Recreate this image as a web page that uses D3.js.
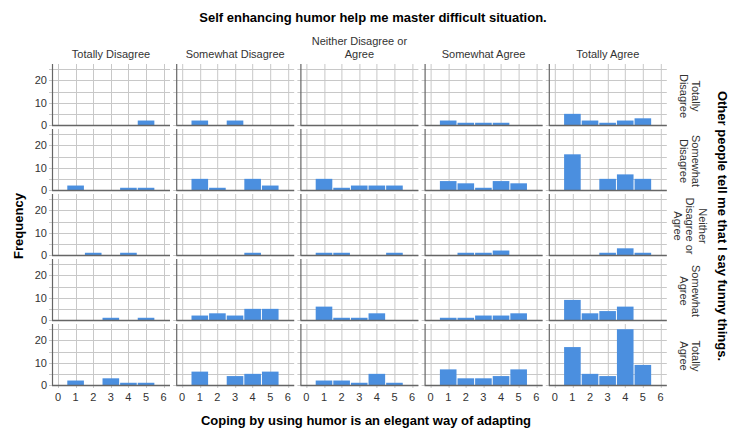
<!DOCTYPE html>
<html>
<head>
<meta charset="utf-8">
<script src="https://cdn.jsdelivr.net/npm/d3@7"></script>
<style>
  body { margin:0; background:#fff; }
  text { font-family: "Liberation Sans", Arial, sans-serif; }
</style>
</head>
<body>
<div id="chart-area"></div>
<script>
// categories
const colLabels = [["Totally Disagree"], ["Somewhat Disagree"], ["Neither Disagree or", "Agree"], ["Somewhat Agree"], ["Totally Agree"]];
const rowLabels = [["Totally", "Disagree"], ["Somewhat", "Disagree"], ["Neither", "Disagree  or", "Agree"], ["Somewhat", "Agree"], ["Totally", "Agree"]];
const xValues = [1, 2, 3, 4, 5];
const xTicks = [0, 1, 2, 3, 4, 5, 6];
const yTicks = [0, 5, 10, 15, 20, 25];
const yLabels = [0, 10, 20];

// counts per row (Other people tell me...), one array per column (Self enhancing...)
const rowTotallyDisagree = [[0,0,0,0,2], [2,0,2,0,0], [0,0,0,0,0], [2,1,1,1,0], [5,2,1,2,3]];
const rowSomewhatDisagree = [[2,0,0,1,1], [5,1,0,5,2], [5,1,2,2,2], [4,3,1,4,3], [16,0,5,7,5]];
const rowNeither = [[0,1,0,1,0], [0,0,0,1,0], [1,1,0,0,1], [0,1,1,2,0], [0,0,1,3,1]];
const rowSomewhatAgree = [[0,0,1,0,1], [2,3,2,5,5], [6,1,1,3,0], [1,1,2,2,3], [9,3,4,6,0]];
const rowTotallyAgree = [[2,0,3,1,1], [6,0,4,5,6], [2,2,1,5,1], [7,3,3,4,7], [17,5,4,25,9]];
const rows = [rowTotallyDisagree, rowSomewhatDisagree, rowNeither, rowSomewhatAgree, rowTotallyAgree];

const W = 732, H = 432;
const margin = { left: 52, top: 67 };
const pw = 118, ph = 58, colStep = 124.2, rowStep = 65;

const svg = d3.select("#chart-area").append("svg")
    .attr("width", W).attr("height", H);

const x = d3.scaleLinear().domain([-0.34, 6.36]).range([0, pw]);
const y = d3.scaleLinear().domain([0, 26]).range([ph, 0]);

const gridColor = "#c8c8c8", axisColor = "#666", barColor = "#4b8fdf";

rows.forEach(function(rowData, r) {
    rowData.forEach(function(counts, c) {
        const g = svg.append("g")
            .attr("transform", "translate(" + (margin.left + c * colStep) + "," + (margin.top + r * rowStep) + ")");

        // horizontal grid (with small tick stubs left of the axis)
        g.selectAll(".hg").data(yTicks).enter().append("line")
            .attr("x1", -3).attr("x2", pw)
            .attr("y1", d => Math.round(y(d)) + 0.5).attr("y2", d => Math.round(y(d)) + 0.5)
            .attr("stroke", gridColor).attr("stroke-width", 1);

        // vertical grid (with stubs above the panel)
        g.selectAll(".vg").data(xTicks).enter().append("line")
            .attr("x1", d => Math.round(x(d)) + 0.5).attr("x2", d => Math.round(x(d)) + 0.5)
            .attr("y1", -3).attr("y2", ph + (r === 4 ? 3 : 0))
            .attr("stroke", gridColor).attr("stroke-width", 1);

        // bars
        g.selectAll("rect").data(counts.map((v, i) => ({x: xValues[i], v: v})).filter(d => d.v > 0))
            .enter().append("rect")
            .attr("x", d => x(d.x - 0.5) + 0.5)
            .attr("width", d => x(d.x + 0.5) - x(d.x - 0.5) - 1)
            .attr("y", d => y(d.v))
            .attr("height", d => ph - y(d.v))
            .attr("fill", barColor);

        // axes lines
        g.append("line").attr("x1", 0.5).attr("x2", 0.5).attr("y1", -3).attr("y2", ph)
            .attr("stroke", axisColor).attr("stroke-width", 1.2);
        g.append("line").attr("x1", 0).attr("x2", pw).attr("y1", ph + 0.5).attr("y2", ph + 0.5)
            .attr("stroke", axisColor).attr("stroke-width", 1.5);

        if (c === 0) {
            g.selectAll(".yl").data(yLabels).enter().append("text")
                .attr("x", -5).attr("y", d => y(d) + 4)
                .attr("text-anchor", "end")
                .attr("font-size", "11px").attr("fill", "#333")
                .text(d => d);
        }
        if (r === 4) {
            g.selectAll(".xl").data(xTicks).enter().append("text")
                .attr("x", d => x(d)).attr("y", ph + 16)
                .attr("text-anchor", "middle")
                .attr("font-size", "11px").attr("fill", "#333")
                .text(d => d);
        }
    });
});

// column headers
colLabels.forEach(function(lines, c) {
    const cx = margin.left + c * colStep + pw / 2;
    const t = svg.append("text")
        .attr("text-anchor", "middle")
        .attr("font-size", "11px").attr("fill", "#333");
    lines.forEach(function(line, i) {
        t.append("tspan").attr("x", cx)
            .attr("y", 58 - (lines.length - 1 - i) * 13)
            .text(line);
    });
});

// row headers (rotated clockwise)
rowLabels.forEach(function(lines, r) {
    const cy = margin.top + r * rowStep + ph / 2;
    const cx = 690;
    const t = svg.append("text")
        .attr("transform", "translate(" + cx + "," + cy + ") rotate(90)")
        .attr("text-anchor", "middle")
        .attr("font-size", "11px").attr("fill", "#333");
    const n = lines.length;
    lines.forEach(function(line, i) {
        t.append("tspan").attr("x", 0)
            .attr("y", (i - (n - 1) / 2) * 12.5 + 4)
            .text(line);
    });
});

// titles
svg.append("text")
    .attr("x", 373).attr("y", 22)
    .attr("text-anchor", "middle")
    .attr("font-size", "13px").attr("font-weight", "bold")
    .text("Self enhancing humor help me master difficult situation.");

svg.append("text")
    .attr("x", 366).attr("y", 425)
    .attr("text-anchor", "middle")
    .attr("font-size", "13px").attr("font-weight", "bold")
    .text("Coping by using humor is an elegant way of adapting");

svg.append("text")
    .attr("transform", "translate(23," + 226 + ") rotate(-90)")
    .attr("text-anchor", "middle")
    .attr("font-size", "13px").attr("font-weight", "bold")
    .text("Frequency");

svg.append("text")
    .attr("transform", "translate(718," + 226 + ") rotate(90)")
    .attr("text-anchor", "middle")
    .attr("font-size", "13px").attr("font-weight", "bold")
    .text("Other people tell me that I say funny things.");
</script>
</body>
</html>
